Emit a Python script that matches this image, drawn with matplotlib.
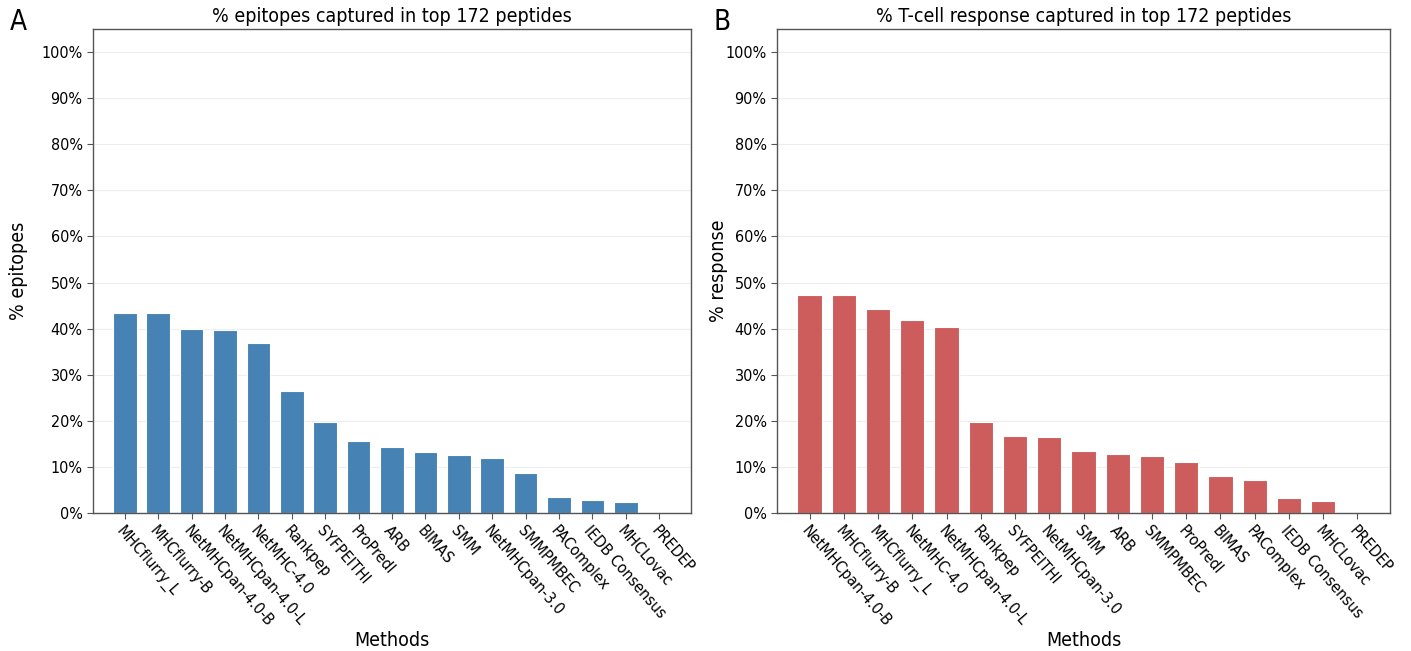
import matplotlib
matplotlib.use("Agg")
import matplotlib.pyplot as plt
from matplotlib.ticker import FuncFormatter
from matplotlib import font_manager

methods_a = ["MHCflurry_L", "MHCflurry-B", "NetMHCpan-4.0-B", "NetMHCpan-4.0-L", "NetMHC-4.0",
             "Rankpep", "SYFPEITHI", "ProPredI", "ARB", "BIMAS", "SMM", "NetMHCpan-3.0",
             "SMMPMBEC", "PAComplex", "IEDB Consensus", "MHCLovac", "PREDEP"]
values_a = [43.3, 43.3, 40.0, 39.8, 36.8, 26.5, 19.7, 15.6, 14.4, 13.2, 12.6, 12.0, 8.6, 3.5, 2.8, 2.3, 0.0]

methods_b = ["NetMHCpan-4.0-B", "MHCflurry-B", "MHCflurry_L", "NetMHC-4.0", "NetMHCpan-4.0-L",
             "Rankpep", "SYFPEITHI", "NetMHCpan-3.0", "SMM", "ARB", "SMMPMBEC", "ProPredI",
             "BIMAS", "PAComplex", "IEDB Consensus", "MHCLovac", "PREDEP"]
values_b = [47.4, 47.2, 44.3, 41.8, 40.4, 19.7, 16.8, 16.4, 13.5, 12.9, 12.4, 11.1, 8.1, 7.2, 3.3, 2.6, 0.0]

yticks = list(range(0, 101, 10))

has_cond = any(f.name == "DejaVu Sans" and f.stretch in ("condensed", 400, "semi-condensed")
               for f in font_manager.fontManager.ttflist)
plt.rcParams["font.family"] = ["DejaVu Sans"]
if has_cond:
    plt.rcParams["font.stretch"] = "condensed"

fig = plt.figure(figsize=(14.11, 6.51), dpi=100)
ax1 = fig.add_axes([93/1411, 1-513/651, (691-93)/1411, (513-29)/651])
ax2 = fig.add_axes([777/1411, 1-513/651, (1390-777)/1411, (513-29)/651])

fs_tick = 11.5 if has_cond else 11
fs_title = 14 if has_cond else 13
fs_label = 14 if has_cond else 13

def draw(ax, methods, values, color, title, ylabel, letter, lx, ylab_x):
    x = list(range(len(methods)))
    ax.bar(x, values, width=0.71, color=color, edgecolor="white", linewidth=0.8, zorder=2)
    ax.set_xlim(-0.95, len(methods) - 0.05)
    ax.set_ylim(0, 105)
    ax.set_yticks(yticks)
    ax.yaxis.set_major_formatter(FuncFormatter(lambda v, p: f"{int(v)}%"))
    ax.set_xticks(x)
    ax.set_xticklabels(methods, rotation=-49, ha="left", rotation_mode="anchor", fontsize=fs_tick)
    ax.tick_params(axis="y", labelsize=fs_tick, length=4, color="#555555")
    ax.tick_params(axis="x", length=4, color="#555555")
    ax.grid(axis="y", color="#eeeeee", linewidth=0.8, zorder=0)
    ax.set_axisbelow(True)
    for s in ax.spines.values():
        s.set_color("#555555")
        s.set_linewidth(1.0)
    ax.set_title(title, fontsize=fs_title, pad=5)
    ax.set_xlabel("Methods", fontsize=fs_label)
    ax.xaxis.set_label_coords(0.5, -0.243)
    ax.set_ylabel(ylabel, fontsize=fs_label)
    ax.yaxis.set_label_coords(ylab_x, 0.5)
    fig.text(lx, 1-22/651, letter, fontsize=20, ha="left", va="center")

draw(ax1, methods_a, values_a, "#4682B4", "% epitopes captured in top 172 peptides", "% epitopes", "A", 10/1411, -0.108)
draw(ax2, methods_b, values_b, "#CD5C5C", "% T-cell response captured in top 172 peptides", "% response", "B", 713/1411, -0.080)

fig.savefig("out.png", dpi=100)
